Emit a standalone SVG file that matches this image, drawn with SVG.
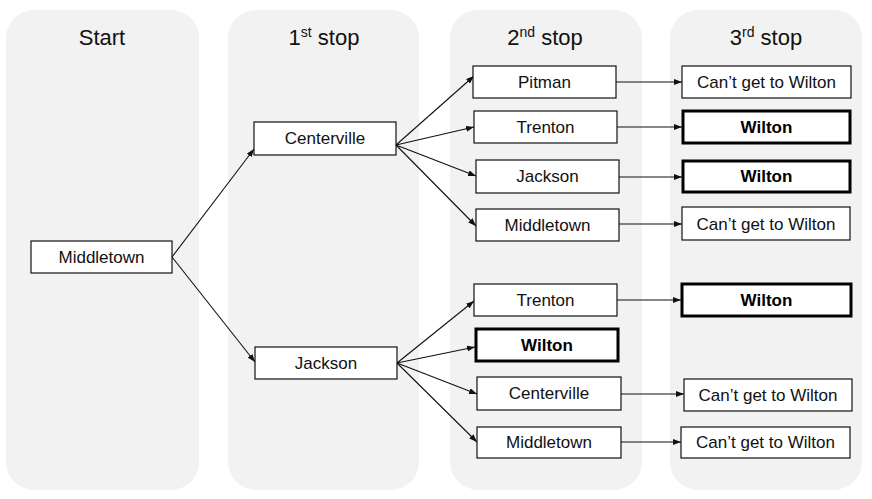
<svg xmlns="http://www.w3.org/2000/svg" width="872" height="499" viewBox="0 0 872 499">
<style>
.panel{fill:#f2f2f2;stroke:none}
.hdr{font-family:"Liberation Sans",Arial,sans-serif;font-size:22px;fill:#111;text-anchor:middle}
.box{fill:#fff;stroke:#111;stroke-width:1.2}
.bbox{fill:#fff;stroke:#000;stroke-width:3}
.t{font-family:"Liberation Sans",Arial,sans-serif;font-size:17px;fill:#111;text-anchor:middle}
.tb{font-family:"Liberation Sans",Arial,sans-serif;font-size:17px;font-weight:bold;fill:#000;text-anchor:middle}
.c{stroke:#111;stroke-width:1.1;fill:none;marker-end:url(#ah)}
</style>
<defs>
<marker id="ah" markerUnits="userSpaceOnUse" markerWidth="8" markerHeight="6" refX="8" refY="3" orient="auto">
<path d="M0,0 L8,3 L0,6 z" fill="#111"/>
</marker>
</defs>
<rect width="872" height="499" fill="#fff"/>
<g id="panels">
<rect class="panel" x="6" y="10" width="193" height="480" rx="28"/>
<rect class="panel" x="228" y="10" width="191" height="480" rx="28"/>
<rect class="panel" x="450" y="10" width="192" height="480" rx="28"/>
<rect class="panel" x="670" y="10" width="192" height="480" rx="28"/>
<text class="hdr" x="102" y="45">Start</text>
<text class="hdr" x="324" y="45">1<tspan font-size="14" dy="-8">st</tspan><tspan dy="8"> stop</tspan></text>
<text class="hdr" x="545" y="45">2<tspan font-size="14" dy="-8">nd</tspan><tspan dy="8"> stop</tspan></text>
<text class="hdr" x="766" y="45">3<tspan font-size="14" dy="-8">rd</tspan><tspan dy="8"> stop</tspan></text>
</g>
<g id="connectors">
<line class="c" x1="172" y1="257" x2="254" y2="149"/>
<line class="c" x1="172" y1="257" x2="255" y2="362"/>
<line class="c" x1="396" y1="145" x2="474" y2="76"/>
<line class="c" x1="396" y1="145" x2="474" y2="127"/>
<line class="c" x1="396" y1="145" x2="476" y2="176"/>
<line class="c" x1="396" y1="145" x2="476" y2="226"/>
<line class="c" x1="397" y1="363" x2="474" y2="301"/>
<line class="c" x1="397" y1="363" x2="475" y2="347"/>
<line class="c" x1="397" y1="363" x2="477" y2="394"/>
<line class="c" x1="397" y1="363" x2="477" y2="442"/>
<line class="c" x1="616" y1="82" x2="682" y2="82"/>
<line class="c" x1="617" y1="127" x2="682" y2="127"/>
<line class="c" x1="619" y1="177" x2="682" y2="177"/>
<line class="c" x1="619" y1="224" x2="682" y2="224"/>
<line class="c" x1="617" y1="300" x2="681" y2="300"/>
<line class="c" x1="621" y1="394" x2="684" y2="394"/>
<line class="c" x1="621" y1="442" x2="681" y2="442"/>
</g>
<g id="n-start-middletown"><rect class="box" x="31" y="241" width="141" height="32"/><text class="t" x="101.5" y="263">Middletown</text></g>
<g id="n1-centerville"><rect class="box" x="254" y="122" width="142" height="33"/><text class="t" x="325" y="144">Centerville</text></g>
<g id="n1-jackson"><rect class="box" x="255" y="347" width="142" height="32"/><text class="t" x="326" y="369">Jackson</text></g>
<g id="n2-pitman"><rect class="box" x="473" y="66" width="143" height="32"/><text class="t" x="544.5" y="88">Pitman</text></g>
<g id="n2-trenton-a"><rect class="box" x="474" y="111" width="143" height="32"/><text class="t" x="545.5" y="133">Trenton</text></g>
<g id="n2-jackson"><rect class="box" x="476" y="160" width="143" height="33"/><text class="t" x="547.5" y="182">Jackson</text></g>
<g id="n2-middletown-a"><rect class="box" x="476" y="209" width="143" height="32"/><text class="t" x="547.5" y="231">Middletown</text></g>
<g id="n2-trenton-b"><rect class="box" x="474" y="284" width="143" height="32"/><text class="t" x="545.5" y="306">Trenton</text></g>
<g id="n2-wilton"><rect class="bbox" x="476" y="329" width="142" height="32"/><text class="tb" x="547" y="351">Wilton</text></g>
<g id="n2-centerville"><rect class="box" x="477" y="377" width="144" height="33"/><text class="t" x="549" y="399">Centerville</text></g>
<g id="n2-middletown-b"><rect class="box" x="477" y="427" width="144" height="31"/><text class="t" x="549" y="448">Middletown</text></g>
<g id="n3-cant-a"><rect class="box" x="682" y="66" width="169" height="32"/><text class="t" x="766.5" y="88">Can’t get to Wilton</text></g>
<g id="n3-wilton-a"><rect class="bbox" x="683" y="111" width="167" height="32"/><text class="tb" x="766.5" y="133">Wilton</text></g>
<g id="n3-wilton-b"><rect class="bbox" x="683" y="161" width="167" height="31"/><text class="tb" x="766.5" y="182">Wilton</text></g>
<g id="n3-cant-b"><rect class="box" x="682" y="207" width="168" height="33"/><text class="t" x="766" y="230">Can’t get to Wilton</text></g>
<g id="n3-wilton-c"><rect class="bbox" x="682" y="284" width="169" height="32"/><text class="tb" x="766.5" y="306">Wilton</text></g>
<g id="n3-cant-c"><rect class="box" x="684" y="379" width="168" height="32"/><text class="t" x="768" y="401">Can’t get to Wilton</text></g>
<g id="n3-cant-d"><rect class="box" x="681" y="427" width="169" height="31"/><text class="t" x="765.5" y="448">Can’t get to Wilton</text></g>
</svg>
